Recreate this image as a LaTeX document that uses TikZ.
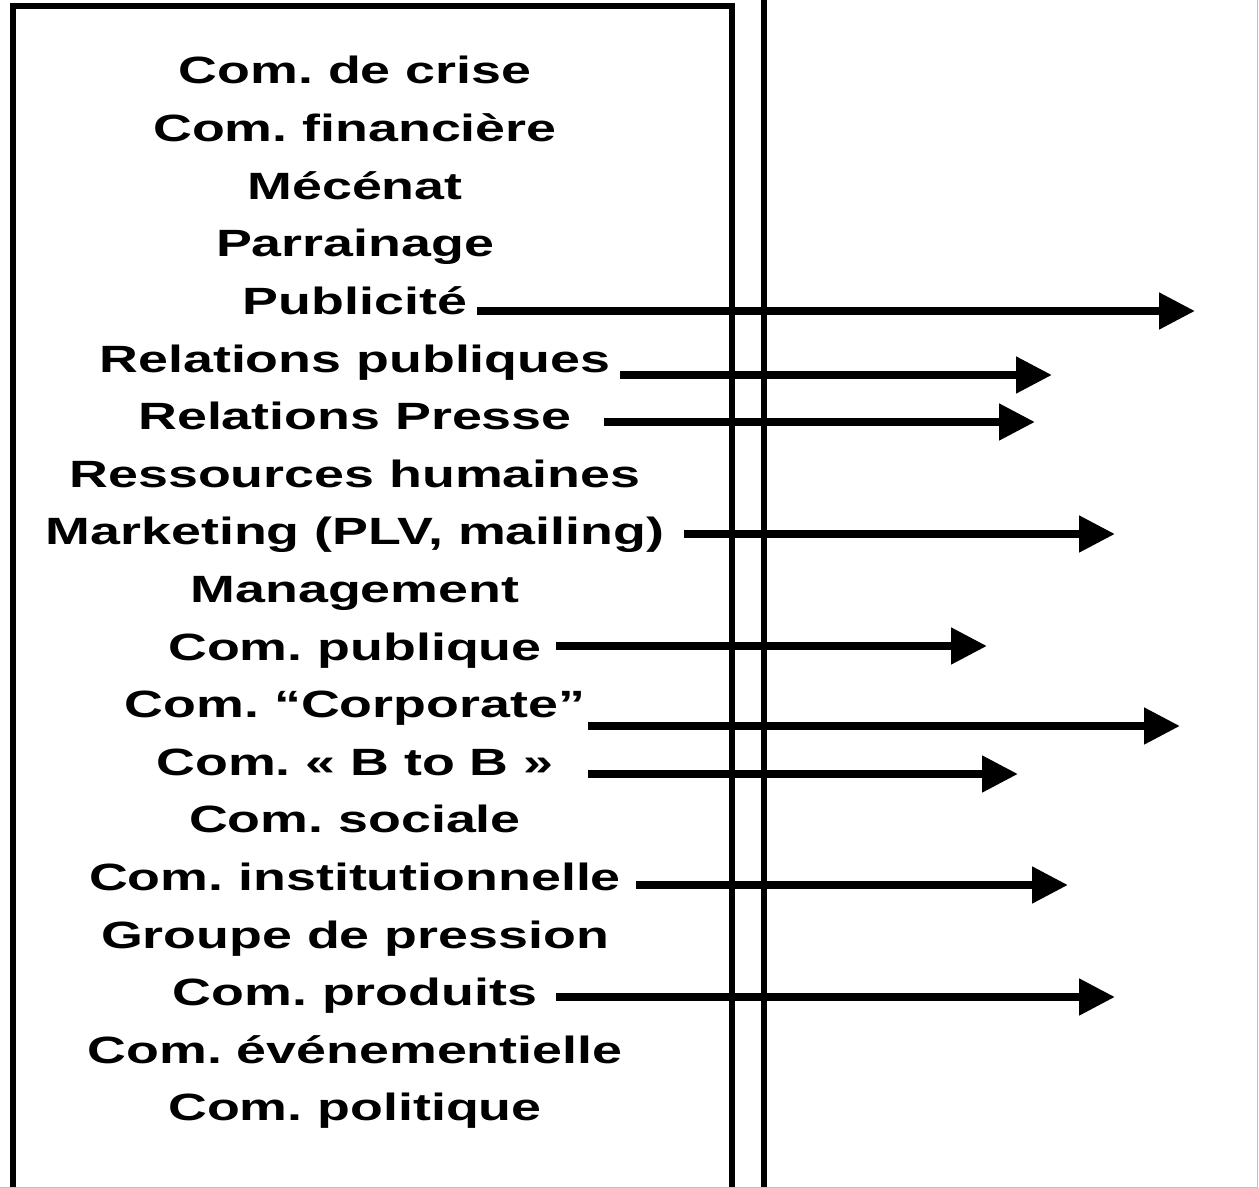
\documentclass[tikz,border=0pt]{standalone}
\usepackage{fontspec}
\setmainfont[FakeStretch=1.415]{Liberation Sans}
\usetikzlibrary{arrows.meta}
\begin{document}
\frenchspacing
\begin{tikzpicture}[x=1pt,y=-1pt,
  item/.style={anchor=base,inner sep=0pt,font=\fontsize{38}{40}\selectfont\bfseries},
  arr/.style={line width=8pt,-{Triangle[length=36pt,width=35pt]}},
  frame/.style={line width=6pt}]
\useasboundingbox (0,0) rectangle (1259,1188);
\fill[white] (0,0) rectangle (1259,1188);
% box and separator
\draw[frame,line join=miter] (13,1192) -- (13,6) -- (732,6) -- (732,1192);
\draw[frame] (764,-4) -- (764,1192);
\draw[gray!50,line width=1pt] (1257.5,0) -- (1257.5,1187.5) -- (0,1187.5);
% texts
\foreach \t [count=\i] in {Com. de crise,Com. financière,Mécénat,Parrainage,Publicité,Relations publiques,Relations Presse,Ressources humaines,{Marketing (PLV, mailing)},Management,Com. publique,Com. “Corporate”,Com. « B to B »,Com. sociale,Com. institutionnelle,Groupe de pression,Com. produits,Com. événementielle,Com. politique}
  \node[item] (t\i) at (355,{84+(\i-1)*57.6}) {\t};
% arrows
\coordinate (s5) at (477,311);  \coordinate (e5) at (1195,311);
\coordinate (s6) at (620,375);  \coordinate (e6) at (1052,375);
\coordinate (s7) at (604,422);  \coordinate (e7) at (1035,422);
\coordinate (s9) at (684,534);  \coordinate (e9) at (1115,534);
\coordinate (s11) at (556,646); \coordinate (e11) at (987,646);
\coordinate (s12) at (588,726); \coordinate (e12) at (1180,726);
\coordinate (s13) at (588,774); \coordinate (e13) at (1018,774);
\coordinate (s15) at (636,885); \coordinate (e15) at (1068,885);
\coordinate (s17) at (556,997); \coordinate (e17) at (1115,997);
\foreach \k in {5,6,7,9,11,12,13,15,17}
  \draw[arr] (s\k) -- (e\k);
\end{tikzpicture}
\end{document}
